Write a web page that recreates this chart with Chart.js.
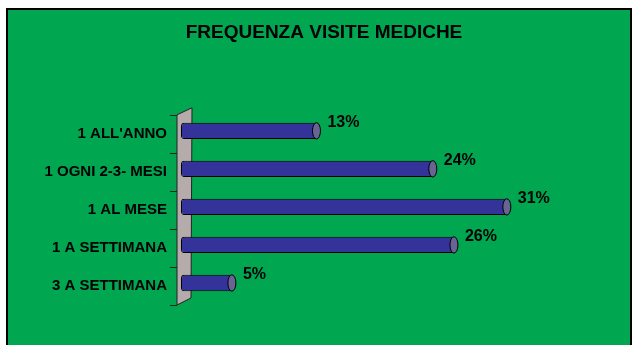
<!DOCTYPE html>
<html>
<head>
<meta charset="utf-8">
<script src="https://cdn.jsdelivr.net/npm/chart.js@4/dist/chart.umd.min.js"></script>
<style>
  body { margin: 0; background: #fff; }
  #wrap { position: absolute; left: 0; top: 0; width: 636px; height: 345px; }
</style>
</head>
<body>
<div id="wrap"><canvas id="visiteChart" width="636" height="345"></canvas></div>
<script>
const categorie = ["1 ALL'ANNO", '1 OGNI 2-3- MESI', '1 AL MESE', '1 A SETTIMANA', '3 A SETTIMANA']
const percentuali = [13, 24, 31, 26, 5]
const titolo = 'FREQUENZA VISITE MEDICHE'

const VERDE = '#00a650'
const BLU = '#333399'
const FONT = '"Liberation Sans", Arial, sans-serif'

// sfondo verde con cornice nera
const sfondo = {
  id: 'sfondo',
  beforeDraw(chart) {
    const ctx = chart.ctx
    ctx.save()
    ctx.fillStyle = '#ffffff'
    ctx.fillRect(0, 0, chart.width, chart.height)
    ctx.fillStyle = VERDE
    ctx.fillRect(6, 8, 626, 345)
    ctx.strokeStyle = '#000'
    ctx.lineWidth = 2
    ctx.strokeRect(7, 9, 624, 345)
    ctx.restore()
  }
}

// parete grigia a sinistra, in finto 3D
const parete = {
  id: 'parete',
  beforeDatasetsDraw(chart) {
    const { ctx, chartArea } = chart
    const l = chartArea.left, t = chartArea.top, b = chartArea.bottom
    ctx.save()
    ctx.beginPath()
    ctx.moveTo(l - 4, t + 3)
    ctx.lineTo(l + 11, t - 4)
    ctx.lineTo(l + 10, b - 4)
    ctx.lineTo(l - 4, b + 3)
    ctx.closePath()
    ctx.fillStyle = '#b5abab'
    ctx.fill()
    ctx.strokeStyle = '#222'
    ctx.lineWidth = 1
    ctx.stroke()
    // trattini tra le categorie
    const n = categorie.length
    for (let i = 0; i <= n; i++) {
      const yy = t + (b - t) * i / n + 3
      ctx.beginPath()
      ctx.moveTo(l - 11, Math.round(yy) + 0.5)
      ctx.lineTo(l - 4, Math.round(yy) + 0.5)
      ctx.stroke()
    }
    ctx.restore()
  }
}

// tappo del cilindro + etichette percentuali
const tappi = {
  id: 'tappi',
  afterDatasetsDraw(chart) {
    const ctx = chart.ctx
    const meta = chart.getDatasetMeta(0)
    ctx.save()
    meta.data.forEach((bar, i) => {
      const h = bar.height
      ctx.beginPath()
      ctx.ellipse(bar.x - 2, bar.y, 4, h / 2, 0, 0, Math.PI * 2)
      ctx.fillStyle = '#6a6494'
      ctx.fill()
      ctx.strokeStyle = '#000'
      ctx.lineWidth = 1
      ctx.stroke()
      ctx.fillStyle = '#000'
      ctx.font = 'bold 16px ' + FONT
      ctx.textBaseline = 'middle'
      ctx.textAlign = 'left'
      ctx.fillText(percentuali[i] + '%', bar.x + 9, bar.y - 8)
    })
    ctx.restore()
  }
}

window.addEventListener('load', function () {
  const ctx = document.getElementById('visiteChart').getContext('2d')
  window.visiteChart = new Chart(ctx, {
    type: 'bar',
    data: {
      labels: categorie,
      datasets: [{
        data: percentuali,
        backgroundColor: BLU,
        borderColor: '#000',
        borderWidth: 1,
        borderSkipped: false,
        borderRadius: 3,
        categoryPercentage: 1,
        barPercentage: 0.43
      }]
    },
    options: {
      indexAxis: 'y',
      responsive: false,
      animation: false,
      layout: { padding: { left: 44, right: 32, top: 0, bottom: 43 } },
      plugins: {
        legend: { display: false },
        tooltip: { enabled: false },
        title: {
          display: true,
          text: titolo,
          color: '#000',
          font: { family: FONT, size: 19, weight: 'bold' },
          padding: { top: 21, bottom: 68 }
        }
      },
      scales: {
        x: { display: false, min: 0, max: 40 },
        y: {
          grid: { display: false, drawTicks: false },
          border: { display: false },
          ticks: {
            color: '#000',
            padding: 14,
            labelOffset: 3,
            font: { family: FONT, size: 15, weight: 'bold' }
          },
          afterFit(scale) { scale.width = 137 }
        }
      }
    },
    plugins: [sfondo, parete, tappi]
  })
})
</script>
</body>
</html>
